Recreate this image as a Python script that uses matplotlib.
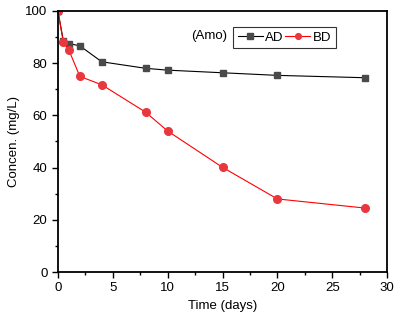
import matplotlib
matplotlib.use("Agg")
import matplotlib.pyplot as plt
from matplotlib.ticker import MultipleLocator

plt.rcParams['font.family'] = ['Liberation Sans', 'DejaVu Sans']

time_ad = [0, 0.5, 1, 2, 4, 8, 10, 15, 20, 28]
ad = [100, 88.5, 87.5, 86.6, 80.5, 78.0, 77.3, 76.3, 75.3, 74.4]
time_bd = [0, 0.5, 1, 2, 4, 8, 10, 15, 20, 28]
bd = [100, 87.9, 85.0, 74.9, 71.7, 61.2, 54.0, 40.1, 28.0, 24.5]

fig = plt.figure(figsize=(4.02, 3.29), dpi=100)
ax = fig.add_axes([0.144, 0.173, 0.819, 0.794])

ax.plot(time_ad, ad, color='black', lw=0.8, marker='s', ms=5,
        mfc='#4a4a4a', mec='#4a4a4a', label='AD')
ax.plot(time_bd, bd, color='red', lw=0.8, marker='o', ms=5.5,
        mfc='#e8383d', mec='#e8383d', label='BD')

ax.set_xlim(0, 30)
ax.set_ylim(0, 100)
ax.xaxis.set_major_locator(MultipleLocator(5))
ax.xaxis.set_minor_locator(MultipleLocator(2.5))
ax.yaxis.set_major_locator(MultipleLocator(20))
ax.yaxis.set_minor_locator(MultipleLocator(10))
ax.tick_params(which='both', direction='out', labelsize=9.5, width=1)
ax.tick_params(which='major', length=4)
ax.tick_params(which='minor', length=2.5)
for s in ax.spines.values():
    s.set_linewidth(1.3)
ax.set_xlabel('Time (days)', fontsize=9.5)
ax.set_ylabel('Concen. (mg/L)', fontsize=9.5)

leg = ax.legend(loc='upper left', bbox_to_anchor=(0.532, 0.939), ncol=2,
                fontsize=9.5, frameon=True, fancybox=False, edgecolor='black',
                handlelength=1.9, handletextpad=0.2, columnspacing=0.1,
                borderpad=0.35, borderaxespad=0, markerscale=0.75)
leg.get_frame().set_linewidth(0.8)
ax.text(0.405, 0.902, '(Amo)', transform=ax.transAxes, fontsize=9.5,
        va='center', ha='left')

fig.savefig('out.png', dpi=100)
